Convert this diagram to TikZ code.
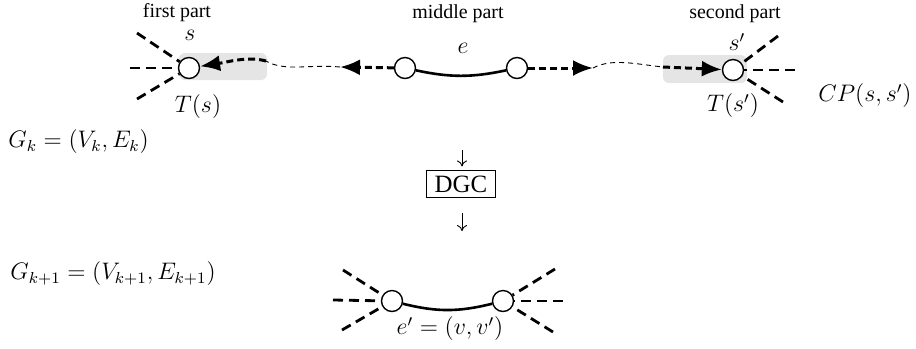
\documentclass[tikz,border=0pt]{standalone}
\usepackage{fontspec}
\setmainfont{Liberation Serif}
\usetikzlibrary{arrows.meta}
\begin{document}
\begin{tikzpicture}[x=0.5bp,y=-0.5bp,
  vtx/.style={circle,draw,fill=white,line width=0.7bp,minimum size=10.5bp,inner sep=0pt},
  spoke/.style={line width=1.4bp,dash pattern=on 5bp off 3bp},
  thickdash/.style={line width=1.5bp,dash pattern=on 3.5bp off 2bp},
  thindash/.style={line width=0.45bp,dash pattern=on 2.5bp off 2bp},
  tip/.style={-{Latex[length=10bp,width=8bp]}},
  downarr/.style={line width=0.45bp,-{To[length=3bp,width=5bp]}},
  edgeline/.style={line width=1.3bp},
  lbl/.style={font=\fontsize{10}{12}\selectfont,inner sep=0pt},
  mth/.style={font=\fontsize{12}{14}\selectfont,inner sep=0pt},
  hl/.style={fill=black!10,rounded corners=3bp,inner sep=0pt}]
\path[use as bounding box] (0,0) rectangle (916,348);
% highlight boxes
\node[hl,minimum width=44bp,minimum height=13.5bp] (hs) at (223,66.5) {};
\node[hl,minimum width=42bp,minimum height=14bp] (ht) at (705,69) {};
% top vertices
\node[vtx] (s) at (189,68) {};
\node[vtx] (m1) at (405,68) {};
\node[vtx] (m2) at (517,68) {};
\node[vtx] (t) at (733,70) {};
% spokes
\coordinate (sa) at (137,33);
\coordinate (sb) at (130,68);
\coordinate (sc) at (137,99);
\coordinate (ta) at (778,36);
\coordinate (tb) at (795,70);
\coordinate (tc) at (783,102);
\foreach \c in {sa,sb,sc} \draw[spoke] (\c) -- (s);
\foreach \c in {ta,tb,tc} \draw[spoke] (\c) -- (t);
% middle edge
\draw[edgeline] (m1) to[bend right=12] (m2);
% connectors
\coordinate (c1) at (266,61);
\coordinate (c2) at (340,67);
\coordinate (c3) at (593,68);
\coordinate (c4) at (663,67);
\draw[thickdash,tip] (m1) -- (c2);
\draw[thindash] (c2) .. controls (310,64) and (285,72) .. (c1);
\draw[thickdash,tip] (c1) .. controls (248,56) and (228,62) .. (s);
\draw[thickdash,tip] (m2) -- (c3);
\draw[thindash] (c3) .. controls (612,58) and (635,64) .. (c4);
\draw[thickdash,tip] (c4) -- (t);
% labels
\node[lbl] (l1) at (177,13) {first part};
\node[lbl] (l2) at (458,14) {middle part};
\node[lbl] (l3) at (735,14) {second part};
\node[mth] (ls) at (190,35) {$s$};
\node[mth] (le) at (463,48) {$e$};
\node[mth] (lt) at (737,42) {$s'$};
\node[mth] (lTs) at (198,107) {$T(s)$};
\node[mth] (lTt) at (733,106) {$T(s')$};
\node[mth] (lcp) at (865,96) {$CP(s,s')$};
\node[mth,anchor=west] (gk) at (8,142) {$G_k=(V_k,E_k)$};
\node[mth,anchor=west] (gk1) at (10,274) {$G_{k+1}=(V_{k+1},E_{k+1})$};
% DGC
\node[draw,line width=0.6bp,minimum width=34.5bp,minimum height=13.5bp,inner sep=0pt,font=\fontsize{12.5}{15}\selectfont] (dgc) at (461,184) {DGC};
\coordinate (a1) at (462,150);
\coordinate (a2) at (462,231);
\draw[downarr,shorten >=1.75bp] (a1) -- (dgc.north -| a1);
\draw[downarr,shorten <=7.5bp] (dgc.south -| a2) -- (a2);
% bottom graph
\node[vtx] (b1) at (392,301) {};
\node[vtx] (b2) at (503,301) {};
\coordinate (ba) at (343,270);
\coordinate (bb) at (333,300);
\coordinate (bc) at (342,330);
\coordinate (bd) at (555,269);
\coordinate (be) at (563,301);
\coordinate (bf) at (553,332);
\foreach \c in {ba,bb,bc} \draw[spoke] (\c) -- (b1);
\foreach \c in {bd,be,bf} \draw[spoke] (\c) -- (b2);
\draw[edgeline] (b1) to[bend right=14] (b2);
\node[mth] (le2) at (450,329) {$e'=(v,v')$};
\end{tikzpicture}
\end{document}
